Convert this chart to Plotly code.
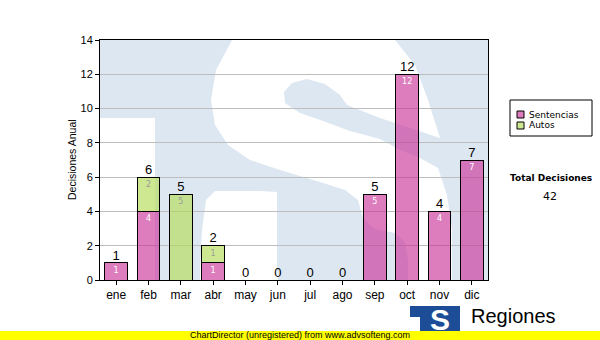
import plotly.graph_objects as go

# ---------------- data ----------------
months = ["ene", "feb", "mar", "abr", "may", "jun", "jul", "ago", "sep", "oct", "nov", "dic"]
sentencias = [1, 4, 0, 1, 0, 0, 0, 0, 5, 12, 4, 7]
autos = [0, 2, 5, 1, 0, 0, 0, 0, 0, 0, 0, 0]
y_ticks = [0, 2, 4, 6, 8, 10, 12, 14]
series_names = ["Sentencias", "Autos"]
y_title = "Decisiones Anual"
total_title = "Total Decisiones"
footer_text = "ChartDirector (unregistered) from www.advsofteng.com"
brand_text = "Regiones"

totals = [s + a for s, a in zip(sentencias, autos)]
grand_total = sum(totals)

# ---------------- geometry helpers (pixels -> coords) ----------------
W, H = 600, 340
L, R, T, B = 100, 488, 40, 280
NCAT = len(months)
YMAX = 14


def px(x):
    return (x - L) / (R - L)


def py(y):
    return (B - y) / (B - T)


def dx(x):
    return (x - L) / (R - L) * NCAT - 0.5


def dy(y):
    return (B - y) / (B - T) * YMAX


MAGENTA = "rgba(204,51,153,0.64)"
GREEN = "rgba(180,220,90,0.66)"
BG_BLUE = "#dde7f1"
LOGO_BLUE = "#1c4d96"

# watermark "S" outline (pixel positions, decoration only)
S_OUTLINE = [
    (440, 138), (428, 100), (415, 65), (395, 40), (360, 22), (310, 14), (262, 20),
    (232, 40), (216, 70), (211, 100), (215, 125), (228, 145), (250, 160), (280, 170),
    (320, 182), (345, 190), (358, 200), (363, 218), (375, 229), (395, 233), (405, 242),
    (408, 260), (408, 300), (300, 305), (280, 295), (277, 270), (277, 192), (260, 191),
    (215, 191), (206, 200), (202, 230), (200, 270), (200, 320), (230, 345), (400, 345),
    (445, 315), (452, 280), (452, 230), (447, 195), (438, 168), (420, 158), (400, 150),
    (380, 139), (350, 131), (323, 121), (300, 113), (285, 103), (284, 92), (292, 83),
    (307, 79), (325, 84), (340, 95), (347, 105), (380, 118), (410, 128),
]

fig = go.Figure()

for vals, name, col, tcol in [(sentencias, series_names[0], MAGENTA, "white"),
                              (autos, series_names[1], GREEN, "#9a9a9a")]:
    fig.add_bar(
        x=months, y=[v if v else None for v in vals], name=name,
        marker=dict(color=col, line=dict(color="black", width=1)),
        text=[str(v) if v else "" for v in vals],
        textposition="inside", insidetextanchor="end", textangle=0,
        constraintext="none",
        textfont=dict(family="DejaVu Sans", size=8, color=tcol),
        width=0.71,
    )
fig.add_scatter(
    x=months, y=totals, mode="text",
    text=[str(v) for v in totals], textposition="top center",
    textfont=dict(family="Liberation Sans", size=13, color="black"),
    cliponaxis=False, showlegend=False, hoverinfo="skip",
)

shapes = []
# watermark: white T-gap and white S on light blue background
shapes.append(dict(type="rect", xref="x", yref="y", layer="below",
                   x0=dx(98), x1=dx(155), y0=dy(118), y1=dy(300),
                   fillcolor="white", line=dict(width=0)))
path = "M " + " L ".join(f"{dx(a):.4f},{dy(b):.4f}" for a, b in S_OUTLINE) + " Z"
shapes.append(dict(type="path", xref="x", yref="y", layer="below", path=path,
                   fillcolor="white", line=dict(width=0)))

# legend box
shapes.append(dict(type="rect", xref="paper", yref="paper",
                   x0=px(510), x1=px(592), y0=py(100), y1=py(136),
                   fillcolor="white", line=dict(color="black", width=1)))
for i, col in enumerate([MAGENTA, GREEN]):
    yc = 114.5 + i * 11
    shapes.append(dict(type="rect", xref="paper", yref="paper",
                       x0=px(517), x1=px(524), y0=py(yc - 3.5), y1=py(yc + 3.5),
                       fillcolor=col, line=dict(color="black", width=1)))

# logo at bottom
shapes.append(dict(type="rect", xref="paper", yref="paper",
                   x0=px(410), x1=px(460), y0=py(306), y1=py(332),
                   fillcolor=LOGO_BLUE, line=dict(width=0)))
shapes.append(dict(type="rect", xref="paper", yref="paper",
                   x0=px(410), x1=px(420), y0=py(317), y1=py(332),
                   fillcolor="white", line=dict(width=0)))
# yellow footer band
shapes.append(dict(type="rect", xref="paper", yref="paper",
                   x0=px(-2), x1=px(602), y0=py(331), y1=py(342),
                   fillcolor="#ffff00", line=dict(width=0)))

annotations = []
annotations.append(dict(text=y_title, xref="paper", yref="paper", x=px(72), y=0.5,
                        textangle=-90, showarrow=False, xanchor="center", yanchor="middle",
                        font=dict(family="Liberation Sans", size=10.5, color="black")))
for i, name in enumerate(series_names):
    annotations.append(dict(text=name, xref="paper", yref="paper", x=px(527), y=py(114.5 + i * 11),
                            showarrow=False, xanchor="left", yanchor="middle",
                            font=dict(family="DejaVu Sans", size=9, color="black")))
annotations.append(dict(text="<b>" + total_title + "</b>", xref="paper", yref="paper",
                        x=px(551), y=py(178), showarrow=False, xanchor="center", yanchor="middle",
                        font=dict(family="DejaVu Sans", size=9, color="black")))
annotations.append(dict(text=str(grand_total), xref="paper", yref="paper",
                        x=px(550), y=py(196), showarrow=False, xanchor="center", yanchor="middle",
                        font=dict(family="DejaVu Sans", size=11, color="black")))
annotations.append(dict(text="<b>S</b>", xref="paper", yref="paper",
                        x=px(440), y=py(319), showarrow=False, xanchor="center", yanchor="middle",
                        font=dict(family="Liberation Sans", size=30, color="white")))
annotations.append(dict(text=brand_text, xref="paper", yref="paper",
                        x=px(469), y=py(316), showarrow=False, xanchor="left", yanchor="middle",
                        font=dict(family="Liberation Sans", size=20, color="black")))
annotations.append(dict(text=footer_text, xref="paper", yref="paper",
                        x=px(300), y=py(334.5), showarrow=False, xanchor="center", yanchor="middle",
                        borderpad=0,
                        font=dict(family="Liberation Sans", size=9, color="black")))

fig.update_layout(
    width=W, height=H, autosize=False,
    margin=dict(l=L, r=W - R, t=T, b=H - B, pad=0),
    paper_bgcolor="white", plot_bgcolor=BG_BLUE,
    barmode="stack", showlegend=False,
    shapes=shapes, annotations=annotations,
    font=dict(family="Liberation Sans", size=12, color="black"),
)
fig.update_xaxes(
    type="category", range=[-0.5, NCAT - 0.5],
    showline=True, linecolor="black", linewidth=1, mirror=True,
    ticks="outside", ticklen=4, tickcolor="black", showgrid=False,
    tickfont=dict(family="Liberation Sans", size=12, color="black"),
)
fig.update_yaxes(
    range=[0, YMAX], tickvals=y_ticks,
    showline=True, linecolor="black", linewidth=1, mirror=True,
    ticks="outside", ticklen=4, tickcolor="black",
    showgrid=True, gridcolor="#bdbdbd", gridwidth=1, zeroline=False,
    tickfont=dict(family="Liberation Sans", size=11, color="black"),
)

fig.write_html("out.html")
